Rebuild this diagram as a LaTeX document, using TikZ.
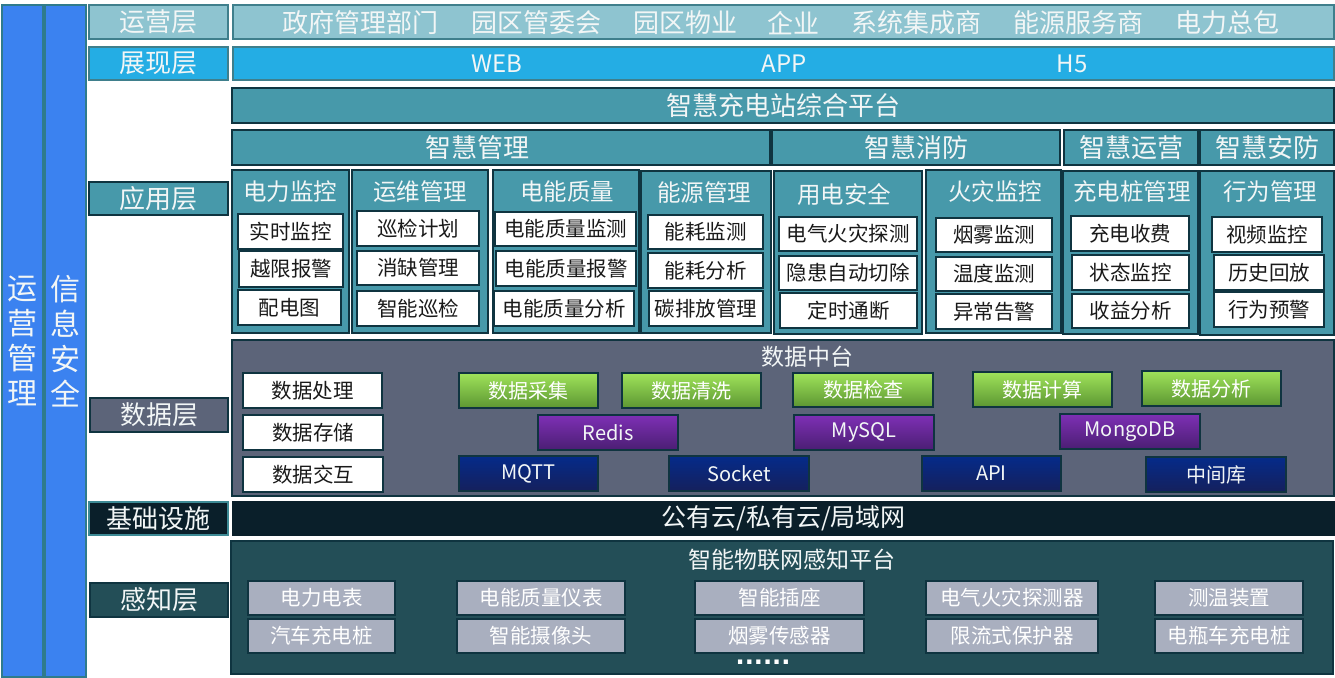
\documentclass[tikz,border=0pt]{standalone}
\usepackage{fontspec}
\setmainfont{Noto Sans CJK SC}
\newfontfamily\dotfont{DejaVu Sans}
\definecolor{opteal}{HTML}{8EC4D0}
\definecolor{opbd}{HTML}{3F7F8C}
\definecolor{sky}{HTML}{24ADE4}
\definecolor{appteal}{HTML}{4799AA}
\definecolor{slate}{HTML}{5C6479}
\definecolor{infra}{HTML}{0A1F2A}
\definecolor{infbd}{HTML}{3D8A95}
\definecolor{sense}{HTML}{234E57}
\definecolor{colblue}{HTML}{3B82F0}
\definecolor{colbd}{HTML}{2F7B8C}
\definecolor{bd}{HTML}{0F3440}
\definecolor{greyb}{HTML}{A9AFBF}
\definecolor{gtop}{HTML}{9FE35A}
\definecolor{gbot}{HTML}{5C9632}
\definecolor{ptop}{HTML}{7E30B5}
\definecolor{pbot}{HTML}{4B1E73}
\definecolor{ntop}{HTML}{052B8A}
\definecolor{nbot}{HTML}{15205C}
\definecolor{txtw}{HTML}{F2F6F6}
\newcommand\bx[7][]{\node[#1,minimum width={(#5-#3)*1pt},minimum height={(#6-#4)*1pt}] (#2) at ({(#3+#5)/2},{(#4+#6)/2}) {#7};}
\tikzset{
  boxbase/.style={draw=bd,line width=1.1pt,inner sep=0pt,outer sep=0pt,text=txtw},
  colbox/.style={boxbase,fill=colblue,draw=colbd,align=center,font=\fontsize{30}{35}\selectfont},
  lbl/.style={boxbase,font=\fontsize{26}{30}\selectfont},
  bar/.style={boxbase},
  bartxt/.style={text=txtw,inner sep=0pt,font=\fontsize{26}{30}\selectfont},
  webtxt/.style={text=txtw,inner sep=0pt,font=\fontsize{24}{28}\selectfont},
  grp/.style={boxbase,fill=appteal},
  grptitle/.style={text=txtw,inner sep=0pt,font=\fontsize{23.5}{28}\selectfont},
  item/.style={boxbase,fill=white,text=black!90,font=\fontsize{20.5}{24}\selectfont},
  dbox/.style={boxbase,font=\fontsize{20}{24}\selectfont},
  gbox/.style={dbox,top color=gtop,bottom color=gbot,text=white},
  pbox/.style={dbox,top color=ptop,bottom color=pbot},
  nbox/.style={dbox,top color=ntop,bottom color=nbot},
  sbox/.style={boxbase,fill=greyb,text=white,font=\fontsize{20.5}{24}\selectfont},
  ttl/.style={text=txtw,inner sep=0pt,font=\fontsize{23}{27}\selectfont}
}
\begin{document}
\begin{tikzpicture}[x=1pt,y=-1pt]
\useasboundingbox (0,0) rectangle (1335,677);
\fill[white] (0,0) rectangle (1335,677);
% left columns
\bx[colbox]{c1}{2}{5}{43}{677}{运\\营\\管\\理}
\bx[colbox]{c2}{45}{5}{86}{677}{信\\息\\安\\全}
% layer labels
\bx[lbl,fill=opteal,draw=opbd]{L1}{89}{5}{228}{39}{运营层}
\bx[lbl,fill=sky,draw=opbd]{L2}{89}{47}{228}{80}{展现层}
\bx[lbl,fill=appteal]{L3}{89}{182}{228}{215}{应用层}
\bx[lbl,fill=slate]{L4}{90}{398}{228}{432}{数据层}
\bx[lbl,fill=infra,draw=infbd]{L5}{89}{502}{228}{535}{基础设施}
\bx[lbl,fill=sense]{L6}{90}{583}{228}{617}{感知层}
% operation bar
\bx[bar,fill=opteal,draw=opbd]{B1}{233}{5}{1334}{39}{}
\node[bartxt] (o1) at (360,23) {政府管理部门};
\node[bartxt] (o2) at (536,23) {园区管委会};
\node[bartxt] (o3) at (685,23) {园区物业};
\node[bartxt] (o4) at (793,23) {企业};
\node[bartxt] (o5) at (916,23) {系统集成商};
\node[bartxt] (o6) at (1078,23) {能源服务商};
\node[bartxt] (o7) at (1227,23) {电力总包};
% presentation bar
\bx[bar,fill=sky,draw=opbd]{B2}{233}{47}{1334}{80}{}
\node[webtxt] (w1) at (497,64) {WEB};
\node[webtxt] (w2) at (784,64) {APP};
\node[webtxt] (w3) at (1072,64) {H5};
% platform
\bx[bar,fill=appteal,font=\fontsize{26}{30}\selectfont]{P}{232}{88}{1334}{123}{智慧充电站综合平台}
\bx[bar,fill=appteal]{H1}{232}{130}{770}{165}{}
\node[bartxt] (h1t) at (477,148) {智慧管理};
\bx[bar,fill=appteal,font=\fontsize{26}{30}\selectfont]{H2}{772}{130}{1060}{165}{智慧消防}
\bx[bar,fill=appteal,font=\fontsize{26}{30}\selectfont]{H3}{1064}{130}{1198}{165}{智慧运营}
\bx[bar,fill=appteal,font=\fontsize{26}{30}\selectfont]{H4}{1200}{130}{1334}{165}{智慧安防}
% groups
\bx[grp]{g1}{232}{170}{349}{333}{}
\bx[grp]{g2}{352}{170}{488}{333}{}
\bx[grp]{g3}{493}{170}{639}{333}{}
\bx[grp]{g4}{641}{171}{771}{333}{}
\bx[grp]{g5}{774}{171}{922}{334}{}
\bx[grp]{g6}{926}{170}{1061}{333}{}
\bx[grp]{g7}{1063}{171}{1198}{334}{}
\bx[grp]{g8}{1200}{171}{1334}{335}{}
\node[grptitle] (t1) at (290,192) {电力监控};
\node[grptitle] (t2) at (420,192) {运维管理};
\node[grptitle] (t3) at (567,192) {电能质量};
\node[grptitle] (t4) at (704,193) {能源管理};
\node[grptitle] (t5) at (844,194) {用电安全};
\node[grptitle] (t6) at (995,192) {火灾监控};
\node[grptitle] (t7) at (1132,192) {充电桩管理};
\node[grptitle] (t8) at (1270,192) {行为管理};
% items
\bx[item]{i11}{238}{214}{343}{249}{实时监控}
\bx[item]{i12}{239}{251}{343}{287}{越限报警}
\bx[item]{i13}{238}{290}{341}{325}{配电图}
\bx[item]{i21}{357}{211}{479}{246}{巡检计划}
\bx[item]{i22}{357}{251}{479}{285}{消缺管理}
\bx[item]{i23}{357}{291}{479}{326}{智能巡检}
\bx[item]{i31}{495}{212}{636}{246}{电能质量监测}
\bx[item]{i32}{496}{251}{636}{286}{电能质量报警}
\bx[item]{i33}{494}{291}{634}{326}{电能质量分析}
\bx[item]{i41}{648}{215}{763}{249}{能耗监测}
\bx[item]{i42}{648}{253}{763}{288}{能耗分析}
\bx[item]{i43}{649}{291}{763}{326}{碳排放管理}
\bx[item]{i51}{779}{217}{917}{251}{电气火灾探测}
\bx[item]{i52}{779}{256}{917}{290}{隐患自动切除}
\bx[item]{i53}{780}{293}{917}{328}{定时通断}
\bx[item]{i61}{936}{218}{1052}{252}{烟雾监测}
\bx[item]{i62}{936}{257}{1052}{291}{温度监测}
\bx[item]{i63}{936}{294}{1052}{329}{异常告警}
\bx[item]{i71}{1071}{216}{1189}{251}{充电收费}
\bx[item]{i72}{1072}{255}{1189}{290}{状态监控}
\bx[item]{i73}{1072}{294}{1189}{328}{收益分析}
\bx[item]{i81}{1212}{217}{1322}{252}{视频监控}
\bx[item]{i82}{1214}{255}{1324}{290}{历史回放}
\bx[item]{i83}{1214}{292}{1324}{327}{行为预警}
% data platform
\bx[bar,fill=slate]{D}{232}{340}{1334}{496}{}
\node[ttl] (dt) at (807,357) {数据中台};
\bx[item]{d1}{243}{373}{382}{408}{数据处理}
\bx[item]{d2}{243}{415}{383}{450}{数据存储}
\bx[item]{d3}{243}{457}{383}{492}{数据交互}
\bx[gbox]{e1}{459}{373}{598}{408}{数据采集}
\bx[gbox]{e2}{622}{373}{761}{408}{数据清洗}
\bx[gbox]{e3}{793}{373}{933}{407}{数据检查}
\bx[gbox]{e4}{973}{372}{1112}{407}{数据计算}
\bx[gbox]{e5}{1142}{371}{1281}{406}{数据分析}
\bx[pbox]{r1}{538}{415}{678}{450}{Redis}
\bx[pbox]{r2}{794}{415}{934}{450}{MySQL}
\bx[pbox]{r3}{1060}{414}{1200}{449}{MongoDB}
\bx[nbox]{n1}{459}{456}{598}{491}{MQTT}
\bx[nbox]{n2}{669}{456}{809}{491}{Socket}
\bx[nbox]{n3}{922}{456}{1061}{491}{API}
\bx[nbox]{n4}{1146}{457}{1286}{492}{中间库}
% infrastructure
\bx[bar,fill=infra,draw=infra,font=\fontsize{25}{30}\selectfont]{I}{233}{502}{1334}{535}{公有云/私有云/局域网}
% perception platform
\bx[bar,fill=sense]{S}{231}{541}{1333}{674}{}
\node[ttl] (st) at (792,560) {智能物联网感知平台};
\bx[sbox]{s11}{248}{581}{395}{615}{电力电表}
\bx[sbox]{s12}{248}{619}{395}{653}{汽车充电桩}
\bx[sbox]{s21}{457}{581}{625}{615}{电能质量仪表}
\bx[sbox]{s22}{457}{619}{625}{653}{智能摄像头}
\bx[sbox]{s31}{695}{581}{864}{615}{智能插座}
\bx[sbox]{s32}{695}{619}{864}{653}{烟雾传感器}
\bx[sbox]{s41}{926}{581}{1098}{615}{电气火灾探测器}
\bx[sbox]{s42}{926}{619}{1098}{653}{限流式保护器}
\bx[sbox]{s51}{1155}{581}{1303}{615}{测温装置}
\bx[sbox]{s52}{1155}{619}{1303}{653}{电瓶车充电桩}
\node[text=white,inner sep=0pt,font=\dotfont\bfseries\fontsize{24}{28}\selectfont] (dots) at (763,662) {......};
\end{tikzpicture}
\end{document}
